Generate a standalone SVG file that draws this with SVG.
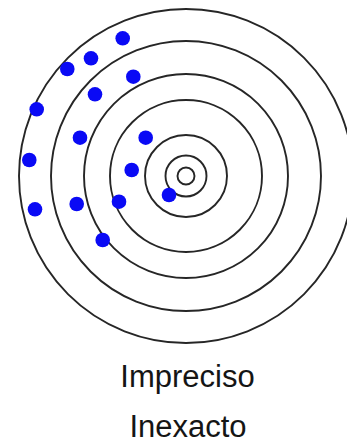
<svg xmlns="http://www.w3.org/2000/svg" width="347" height="445" viewBox="0 0 347 445">
<style>
.ring{fill:none;stroke:#262626;stroke-width:1.9}
.dot{fill:#0a0af5}
.lbl{font-family:"Liberation Sans",Arial,sans-serif;font-size:31px;fill:#151515;text-anchor:middle}
</style>
<rect width="347" height="445" fill="#fff"/>
<g id="target">
<circle class="ring" cx="186" cy="176" r="167"/>
<circle class="ring" cx="186" cy="176" r="135"/>
<circle class="ring" cx="186" cy="176" r="102"/>
<circle class="ring" cx="186" cy="176" r="76"/>
<circle class="ring" cx="186" cy="176" r="41"/>
<circle class="ring" cx="186" cy="176" r="20.5"/>
<circle class="ring" cx="186" cy="176" r="8.5"/>
</g>
<g id="hits">
<circle class="dot" cx="122.7" cy="38.3" r="7.3"/>
<circle class="dot" cx="91" cy="58.3" r="7.3"/>
<circle class="dot" cx="67.3" cy="69" r="7.3"/>
<circle class="dot" cx="133.3" cy="76.7" r="7.3"/>
<circle class="dot" cx="95" cy="94.3" r="7.3"/>
<circle class="dot" cx="36.7" cy="109.3" r="7.3"/>
<circle class="dot" cx="80" cy="137.7" r="7.3"/>
<circle class="dot" cx="145.7" cy="137.7" r="7.3"/>
<circle class="dot" cx="29.3" cy="160" r="7.3"/>
<circle class="dot" cx="131.7" cy="170" r="7.3"/>
<circle class="dot" cx="169" cy="195" r="7.3"/>
<circle class="dot" cx="76.7" cy="204" r="7.3"/>
<circle class="dot" cx="119" cy="201.7" r="7.3"/>
<circle class="dot" cx="35" cy="209.3" r="7.3"/>
<circle class="dot" cx="102.7" cy="240" r="7.3"/>
</g>
<g id="labels">
<text class="lbl" x="187.5" y="387">Impreciso</text>
<text class="lbl" x="188" y="437">Inexacto</text>
</g>
</svg>
